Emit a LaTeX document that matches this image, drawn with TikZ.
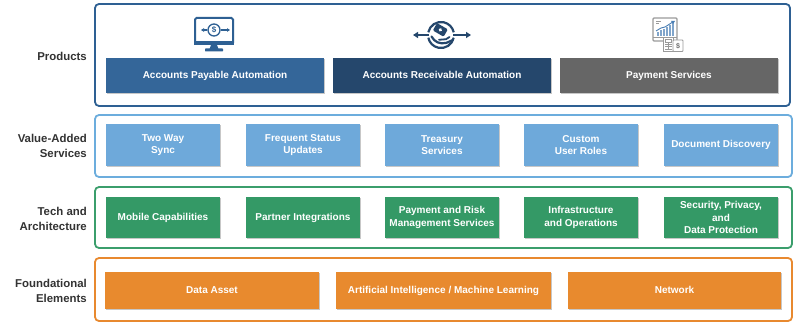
\documentclass[tikz,border=0pt]{standalone}
\usepackage{fontspec}
\setmainfont{Liberation Sans}
\usetikzlibrary{shadows,arrows.meta}
\definecolor{pblue}{HTML}{2E6093}
\definecolor{apblue}{HTML}{346699}
\definecolor{arblue}{HTML}{25476C}
\definecolor{psgray}{HTML}{666666}
\definecolor{lblue}{HTML}{6CADDD}
\definecolor{vblue}{HTML}{6EA9DA}
\definecolor{tgreen}{HTML}{3B9E6C}
\definecolor{sgreen}{HTML}{349966}
\definecolor{forange}{HTML}{E8892F}
\definecolor{sorange}{HTML}{E88A2E}
\definecolor{labgray}{HTML}{333333}
\definecolor{icongray}{HTML}{9A9A9A}
\definecolor{iconblue}{HTML}{4A7FB5}
\begin{document}
\begin{tikzpicture}[x=1pt,y=-1pt,
  outer/.style={draw, line width=1.8pt, rounded corners=4pt, fill=white, inner sep=0pt},
  sub/.style={draw=none, text=white, align=center, inner sep=0pt,
    font=\bfseries\fontsize{10}{12.3}\selectfont,
    drop shadow={shadow xshift=1.2pt, shadow yshift=-1.4pt, fill=black, opacity=0.22}},
  oneline/.style={sub, text height=7.2pt, text depth=2pt},
  lab/.style={anchor=east, align=right, text=labgray, inner sep=0pt,
    font=\bfseries\fontsize{11.4}{15}\selectfont}
]
\useasboundingbox (0,0) rectangle (795,326);
\fill[white] (0,0) rectangle (795,326);

% outer frames
\node[outer, draw=pblue, minimum width=695, minimum height=102] (prod) at (442.5,55) {};
\node[outer, draw=lblue, minimum width=697, minimum height=62] (vas) at (443.5,146) {};
\node[outer, draw=tgreen, minimum width=697, minimum height=61] (tech) at (443.5,217.5) {};
\node[outer, draw=forange, minimum width=697, minimum height=63] (found) at (443.5,289.5) {};

% row labels
\node[lab] (lprod) at (87,56) {Products};
\node[lab] (lvas) at (87,145.5) {Value-Added\\Services};
\node[lab] (ltech) at (87,218.5) {Tech and\\Architecture};
\node[lab] (lfound) at (87,290.5) {Foundational\\Elements};

% products
\node[oneline, fill=apblue, minimum width=218, minimum height=35] (ap) at (215,75.5) {Accounts Payable Automation};
\node[oneline, fill=arblue, minimum width=218, minimum height=35] (ar) at (442,75.5) {Accounts Receivable Automation};
\node[oneline, fill=psgray, minimum width=218, minimum height=35] (ps) at (669,75.5) {Payment Services};

% value-added services
\foreach \n/\x/\t in {v1/163/{Two Way\\Sync}, v2/303/{Frequent Status\\Updates}, v3/442/{Treasury\\Services}, v4/581/{Custom\\User Roles}, v5/721/{Document Discovery}}
  \node[sub, fill=vblue, minimum width=114, minimum height=42] (\n) at (\x,145) {\t};

% tech and architecture
\foreach \n/\x/\t in {t1/163/{Mobile Capabilities}, t2/303/{Partner Integrations}, t3/442/{Payment and Risk\\Management Services}, t4/581/{Infrastructure\\and Operations}, t5/721/{Security, Privacy,\\and\\Data Protection}}
  \node[sub, fill=sgreen, minimum width=114, minimum height=41] (\n) at (\x,217.5) {\t};

% foundational elements
\node[oneline, fill=sorange, minimum width=214, minimum height=37] (f1) at (212,290.5) {Data Asset};
\node[oneline, fill=sorange, minimum width=215, minimum height=37] (f2) at (443.5,290.5) {Artificial Intelligence / Machine Learning};
\node[oneline, fill=sorange, minimum width=213, minimum height=37] (f3) at (674.5,290.5) {Network};

% icon 1: monitor with dollar
\draw[pblue, line width=2, rounded corners=1.5] (195,18) rectangle (233,44);
\fill[pblue] (194,41) rectangle (234,45);
\fill[pblue] (211,45) -- (217,45) -- (218.5,49) -- (209.5,49) -- cycle;
\fill[pblue, rounded corners=0.6] (205,48.5) rectangle (223,51.5);
\draw[pblue, line width=1.3] (214,30) circle (6);
\node[inner sep=0pt, text=pblue, font=\bfseries\fontsize{8}{8}\selectfont] (dol1) at (214,30.3) {\$};
\draw[pblue, line width=1.1, -{Triangle[length=3pt,width=3.5pt]}] (207,30) -- (201,30);
\draw[pblue, line width=1.1, -{Triangle[length=3pt,width=3.5pt]}] (221,30) -- (230,30);

% icon 2: receivables cycle with hand
\draw[arblue, line width=2.2] (441,35) ++(12:13) arc (12:168:13);
\draw[arblue, line width=2.2] (441,35) ++(192:13) arc (192:348:13);
\draw[arblue, line width=2, -{Triangle[length=5pt,width=6pt]}] (429,35) -- (413,35);
\draw[arblue, line width=2, -{Triangle[length=5pt,width=6pt]}] (453,35) -- (471,35);
\fill[arblue, rotate around={-30:(440,30)}, rounded corners=1.2] (434,25.5) rectangle (446.5,34);
\fill[white, rotate around={-30:(440,30)}] (440.2,29.7) circle (1.8);
\draw[arblue, line width=2.2, line cap=round, line join=round]
  (431.5,36.5) .. controls (435,42.5) and (439.5,44) .. (446,43) -- (453,40);
\draw[arblue, line width=1.8, line cap=round] (439,39.8) -- (446,39.2) -- (449.5,37);

% icon 3: payment services
\draw[icongray, line width=1.1, rounded corners=1] (653,18) rectangle (677,41);
\draw[icongray, line width=0.8] (653,37.5) -- (677,37.5);
\foreach \bx/\bh in {657/4, 660/6, 663/7, 666/9, 669/11, 672/13}
  \fill[iconblue!70] (\bx,36) rectangle ++(2,-\bh);
\draw[iconblue, line width=0.9] (656,31) -- (661,28) -- (665,27) -- (672,22.5);
\fill[iconblue] (671,21) -- (675,21) -- (673,24) -- cycle;
\draw[icongray, line width=0.6] (656,21) -- (661,21) (656,23) -- (659,23);
\filldraw[fill=white, draw=icongray, line width=0.9] (663.5,37) rectangle (673,51);
\draw[icongray, line width=0.6] (665,39.5) rectangle (671.5,42);
\foreach \cy in {44,46.5,49} \draw[icongray, line width=0.6] (665,\cy) -- (671.5,\cy);
\draw[icongray, line width=0.6] (668.2,43) -- (668.2,50);
\filldraw[fill=white, draw=icongray, line width=0.9, rounded corners=0.8] (673,40) rectangle (683,51.5);
\node[inner sep=0pt, text=icongray!70!black, font=\bfseries\fontsize{7}{7}\selectfont] (dol3) at (678,46) {\$};
\end{tikzpicture}
\end{document}
